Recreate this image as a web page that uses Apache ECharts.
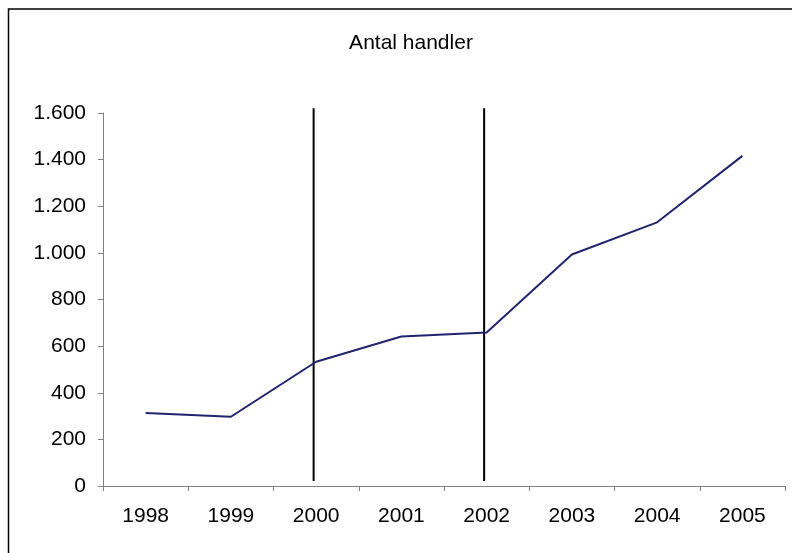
<!DOCTYPE html>
<html>
<head>
<meta charset="utf-8">
<script src="https://cdn.jsdelivr.net/npm/echarts@6/dist/echarts.min.js"></script>
<style>
html,body{margin:0;padding:0;background:#fff;}
#c{width:792px;height:553px;}
</style>
</head>
<body>
<div id="c"></div>
<script>
var title = 'Antal handler';
var years = ['1998','1999','2000','2001','2002','2003','2004','2005'];
var trades = [313, 297, 533, 641, 658, 993, 1131, 1416];
var markerYears = ['2000', '2002'];
var markerLow = [21, 21];
var markerHigh = [1620, 1620];
var yTicks = {min: 0, max: 1600, interval: 200};

function fmt(v){ return String(v).replace(/\B(?=(\d{3})+(?!\d))/g, '.'); }

var chart = echarts.init(document.getElementById('c'), null, {renderer: 'canvas'});
var font = 'Liberation Sans, Arial, sans-serif';
chart.setOption({
  animation: false,
  backgroundColor: '#fff',
  title: {
    text: title, left: 406, top: 28, textAlign: 'center',
    textStyle: {fontFamily: font, fontSize: 21, fontWeight: 'normal', color: '#000'}
  },
  graphic: [{
    type: 'rect', shape: {x: 8.5, y: 9, width: 820, height: 600},
    style: {fill: 'none', stroke: '#000', lineWidth: 1.5}, silent: true
  }],
  grid: {left: 103, right: 7, top: 113, bottom: 67},
  xAxis: {
    type: 'category', data: years, boundaryGap: true,
    axisLine: {lineStyle: {color: '#808080', width: 1}},
    axisTick: {show: true, length: 5, lineStyle: {color: '#808080'}},
    axisLabel: {fontFamily: font, fontSize: 21, color: '#000', margin: 20},
    splitLine: {show: false}
  },
  yAxis: {
    type: 'value', min: yTicks.min, max: yTicks.max, interval: yTicks.interval,
    axisLine: {show: true, lineStyle: {color: '#808080', width: 1}},
    axisTick: {show: true, length: 5, lineStyle: {color: '#808080'}},
    axisLabel: {fontFamily: font, fontSize: 21, color: '#000', margin: 17, formatter: fmt},
    splitLine: {show: false}
  },
  series: [{
    type: 'line', data: trades, symbol: 'none',
    lineStyle: {color: '#22236e', width: 2},
    itemStyle: {color: '#22236e'}
  }, {
    type: 'custom', clip: false, silent: true,
    data: markerYears.map(function(y, i){ return [y, markerLow[i], markerHigh[i]]; }),
    encode: {x: 0, y: [1, 2]},
    renderItem: function(params, api){
      var a = api.coord([api.value(0), api.value(1)]);
      var b = api.coord([api.value(0), api.value(2)]);
      return {
        type: 'line',
        shape: {x1: a[0] - 2.5, y1: a[1], x2: b[0] - 2.5, y2: b[1]},
        style: {stroke: '#000', lineWidth: 2}
      };
    }
  }]
});
</script>
</body>
</html>
